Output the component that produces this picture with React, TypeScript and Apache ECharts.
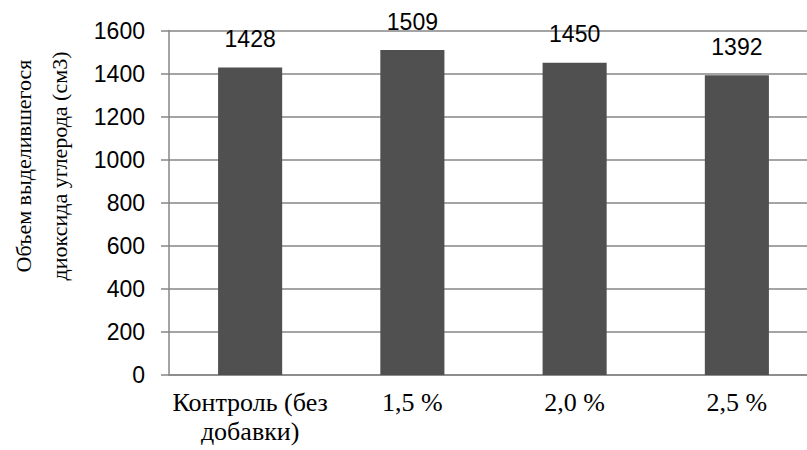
import React, { useEffect, useRef } from "react";
import * as echarts from "echarts";

const categories = ["Контроль (без\nдобавки)", "1,5 %", "2,0 %", "2,5 %"];
const values = [1428, 1509, 1450, 1392];
const yTitleLines = ["Объем выделившегося", "диоксида углерода (см3)"];
const yMin = 0;
const yMax = 1600;
const yInterval = 200;

export default function App() {
  const ref = useRef<HTMLDivElement>(null);
  useEffect(() => {
    document.body.style.margin = "0";
    document.body.style.overflow = "hidden";
    const chart = echarts.init(ref.current!, null, { renderer: "svg" });
    chart.setOption({
      animation: false,
      backgroundColor: "#ffffff",
      grid: { left: 169, top: 30.5, right: 2, bottom: 75, containLabel: false },
      xAxis: {
        type: "category",
        data: categories,
        axisLine: { show: true, lineStyle: { color: "#868686", width: 1.5 } },
        axisTick: { show: false },
        axisLabel: {
          color: "#000",
          fontFamily: "Liberation Serif",
          fontSize: 26,
          lineHeight: 29,
          margin: 13,
          interval: 0,
        },
      },
      yAxis: {
        type: "value",
        min: yMin,
        max: yMax,
        interval: yInterval,
        axisLine: { show: true, lineStyle: { color: "#868686", width: 1.5 } },
        axisTick: { show: true, length: 8, lineStyle: { color: "#868686", width: 1.5 } },
        splitLine: { show: true, lineStyle: { color: "#868686", width: 1.5 } },
        axisLabel: {
          color: "#000",
          fontFamily: "Liberation Sans",
          fontSize: 23,
          margin: 24,
          formatter: (v: number) => String(v),
        },
      },
      graphic: [
        {
          type: "text",
          x: 41,
          y: 166,
          rotation: Math.PI / 2,
          style: {
            text: yTitleLines.join("\n"),
            font: "22px 'Liberation Serif'",
            lineHeight: 36,
            fill: "#000",
            align: "center",
            verticalAlign: "middle",
          },
        },
      ],
      series: [
        {
          type: "bar",
          data: values,
          barWidth: "39.5%",
          itemStyle: { color: "#505050" },
          label: {
            show: true,
            position: "top",
            distance: 17,
            color: "#000",
            fontFamily: "Liberation Sans",
            fontSize: 23,
          },
        },
      ],
    });
    return () => chart.dispose();
  }, []);
  return <div ref={ref} style={{ width: 820, height: 450, position: "fixed", left: 0, top: 0 }} />;
}
